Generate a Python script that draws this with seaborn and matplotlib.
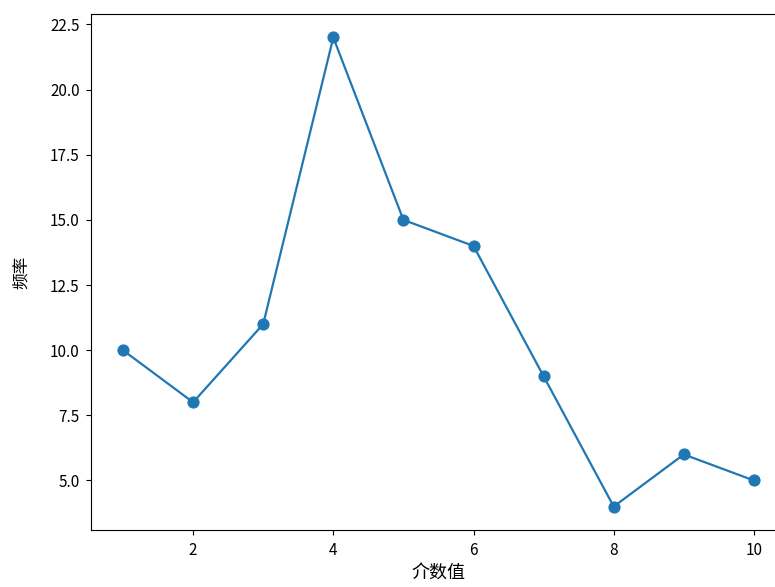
import matplotlib

matplotlib.use("Agg")

import matplotlib.pyplot as plt
import pandas as pd
import seaborn as sns

betweenness = [1, 2, 3, 4, 5, 6, 7, 8, 9, 10]
frequency = [10, 8, 11, 22, 15, 14, 9, 4, 6, 5]


def main() -> None:
    plt.rcParams["font.family"] = ["Noto Sans CJK SC", "DejaVu Sans"]
    plt.rcParams["axes.unicode_minus"] = False

    data = pd.DataFrame({"介数值": betweenness, "频率": frequency})

    # 原图右侧被裁掉了一点，坐标轴延伸到画布外
    fig = plt.figure(figsize=(7.75, 5.87), dpi=100)
    ax = fig.add_axes([0.118, 0.0971, 0.8955, 0.879])
    sns.lineplot(
        data=data, x="介数值", y="频率", ax=ax, color="#1f77b4",
        marker="o", markersize=8, markeredgecolor="#1f77b4", linewidth=1.6,
    )
    ax.tick_params(labelsize=11, pad=5)
    ax.set_xlabel("介数值", fontsize=13, labelpad=4)
    ax.set_ylabel("频率", fontsize=12, labelpad=14)
    fig.savefig("out.png", dpi=100)
    plt.close(fig)


if __name__ == "__main__":
    main()
